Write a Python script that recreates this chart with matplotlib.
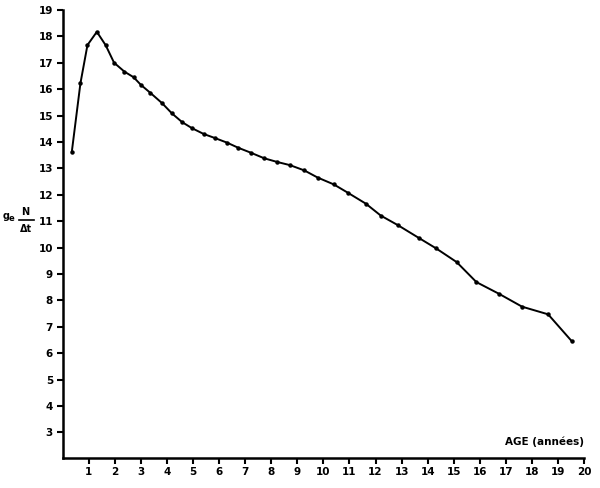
import matplotlib
matplotlib.use("Agg")
import matplotlib.pyplot as plt

age = [0.35, 0.68, 0.95, 1.31, 1.65, 1.97, 2.37, 2.72, 3.0, 3.36, 3.81, 4.19,
       4.58, 4.96, 5.41, 5.83, 6.31, 6.73, 7.22, 7.73, 8.23, 8.72, 9.27, 9.78,
       10.4, 10.93, 11.63, 12.2, 12.87, 13.65, 14.32, 15.11, 15.87, 16.75,
       17.62, 18.62, 19.52]
value = [13.63, 16.22, 17.67, 18.17, 17.66, 17.0, 16.66, 16.45, 16.16, 15.86,
         15.47, 15.08, 14.75, 14.52, 14.3, 14.15, 13.97, 13.78, 13.59, 13.38,
         13.24, 13.12, 12.92, 12.65, 12.39, 12.08, 11.66, 11.21, 10.84, 10.37,
         9.97, 9.45, 8.69, 8.24, 7.76, 7.47, 6.46]
xticks = list(range(1, 21))
yticks = list(range(3, 20))

fig = plt.figure(figsize=(6, 4.88), dpi=100)
ax = fig.add_axes([0.1045, 0.0621, 0.869, 0.9176])
ax.plot(age, value, color="black", lw=1.4, marker="o", ms=2.2)
ax.set_xlim(0, 20)
ax.set_ylim(2.04, 19)
for s in ["top", "right"]:
    ax.spines[s].set_visible(False)
for s in ["left", "bottom"]:
    ax.spines[s].set_linewidth(1.8)
ax.set_xticks(xticks)
ax.set_yticks(yticks)
ax.set_xticklabels([str(t) for t in xticks], fontsize=7.5, fontweight="bold")
ax.set_yticklabels([str(t) for t in yticks], fontsize=7.5, fontweight="bold")
ax.tick_params(axis="both", length=4, width=1.5, pad=3)
ax.text(20, 2.45, "AGE (années)", ha="right", va="bottom", fontsize=7.5,
        fontweight="bold")

fig.text(0.004, 0.558, "g", fontsize=7, fontweight="bold", va="center")
fig.text(0.0145, 0.553, "e", fontsize=6, fontweight="bold", va="center")
fig.text(0.042, 0.565, "N", fontsize=7, fontweight="bold", ha="center", va="center")
fig.add_artist(plt.Line2D([0.032, 0.057], [0.549, 0.549], color="black", lw=1.2,
                          transform=fig.transFigure))
fig.text(0.044, 0.531, "Δt", fontsize=7, fontweight="bold", ha="center", va="center")

fig.savefig("out.png", dpi=100)
